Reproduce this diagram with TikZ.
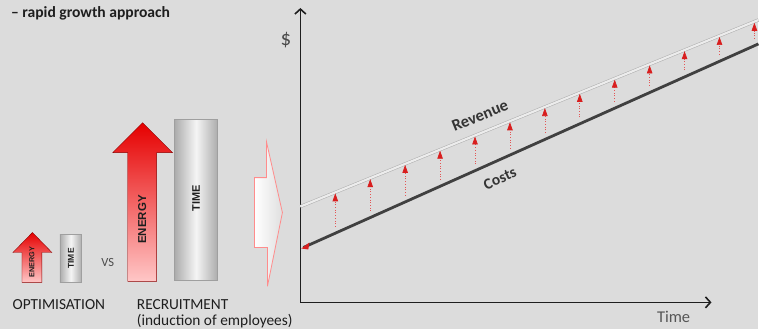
\documentclass[tikz,border=0pt]{standalone}
\usepackage{fontspec}
\setmainfont{Carlito}
\newfontfamily\boxfont{Liberation Sans}
\usetikzlibrary{arrows.meta}
\definecolor{bg}{HTML}{DCDCDC}
\definecolor{ink}{HTML}{1E1E1E}
\definecolor{redhi}{HTML}{D81E1E}
\tikzset{every node/.style={align=center, inner sep=0pt, text=ink}, >={Straight Barb[length=5pt,width=11pt]},
  axis/.style={draw=ink, line width=1.6pt, ->},
  revline/.style={draw=gray!65, line width=0.5pt, double=gray!15, double distance=2.2pt},
  costline/.style={draw=gray!50!black, line width=2.8pt},
  gain/.style={draw=redhi!75, dotted, line width=0.7pt, -{Triangle[length=8pt,width=5.5pt,color=redhi]}},
  energy/.style={top color=red!90!black, bottom color=red!22, draw=red!55!black, line width=0.4pt},
  timebox/.style={left color=gray!65, right color=gray!65, middle color=gray!8, draw=gray!75, line width=0.7pt},
  bigchev/.style={left color=white, right color=gray!25, draw=red!45, line width=0.8pt},
  boxtext/.style={rotate=90, font=\boxfont\bfseries},
  lbl/.style={font=\fontsize{15.4}{16}\selectfont, anchor=base west},
  curve/.style={font=\fontsize{16.5}{18}\selectfont\bfseries, text=ink!90}}

\begin{document}
\begin{tikzpicture}[x=1pt, y=-1pt]
  \fill[bg] (0,0) rectangle (760,330);
  \node[anchor=base west, font=\fontsize{15.6}{18}\selectfont\bfseries] (title) at (11,17.5) {– rapid growth approach};

  % optimisation
  \path[energy] (22,283) -- (22,253) -- (13,253) -- (32.5,233) -- (52,253) -- (42,253) -- (42,283) -- cycle;
  \node[boxtext, font=\boxfont\bfseries\fontsize{7.3}{8}\selectfont] (e1) at (32,263) {ENERGY};
  \path[timebox] (60,235) rectangle (82,283);
  \node[boxtext, font=\boxfont\bfseries\fontsize{8.5}{9}\selectfont] (t1) at (71,259) {TIME};
  \node[text=gray!60!black, font=\fontsize{12.5}{13}\selectfont] (vs) at (108,263) {VS};
  \node[lbl, anchor=base] (opt) at (59,310) {OPTIMISATION};

  % recruitment
  \path[energy] (128,282) -- (128,153) -- (113,153) -- (143,123) -- (173,153) -- (157,153) -- (157,282) -- cycle;
  \node[boxtext, font=\boxfont\bfseries\fontsize{11.5}{12}\selectfont] (e2) at (142.5,220) {ENERGY};
  \path[timebox] (175,120) rectangle (218,281);
  \node[boxtext, font=\boxfont\bfseries\fontsize{11}{12}\selectfont] (t2) at (196.5,199) {TIME};
  \node[lbl] (rec) at (137,310) {RECRUITMENT};
  \node[lbl] (rec2) at (137,326) {(induction of employees)};

  \path[bigchev] (255,178) -- (267,178) -- (267,142) -- (283,213) -- (268,287) -- (268,248) -- (255,248) -- cycle;

  % chart
  \coordinate (O) at (301,303);
  \coordinate (ytop) at (301,8);
  \coordinate (xend) at (713,303);
  \draw[axis] (O) -- (ytop);
  \draw[axis] (O) -- (xend);
  \node[font=\fontsize{21}{23}\selectfont, text=ink!80] (dol) at (286.5,40) {\$};
  \node[font=\fontsize{16.5}{18}\selectfont, text=ink!75] (time) at (675,318) {Time};

  \coordinate (rev0) at (301,207);
  \coordinate (rev1) at (760,20);
  \coordinate (cost0) at (304,248);
  \coordinate (cost1) at (760,44);
  \draw[revline] (rev0) -- (rev1);
  \draw[costline] (cost0) -- (cost1);
  \fill[redhi] (302,249) -- (310,243) -- (309,250) -- cycle;
  \foreach \i in {0,...,12}{
    \pgfmathsetmacro\xx{336+35*\i}
    \coordinate (lo\i) at (\xx, {241-0.448*(\xx-305)});
    \coordinate (up\i) at (\xx, {208-0.407*(\xx-301)});
    \draw[gain] (lo\i) -- (up\i);
  }
  \node[curve, rotate=22] (rv) at (481,116) {Revenue};
  \node[curve, rotate=24, font=\fontsize{15.5}{17}\selectfont\bfseries] (cs) at (501,179) {Costs};
\end{tikzpicture}
\end{document}
